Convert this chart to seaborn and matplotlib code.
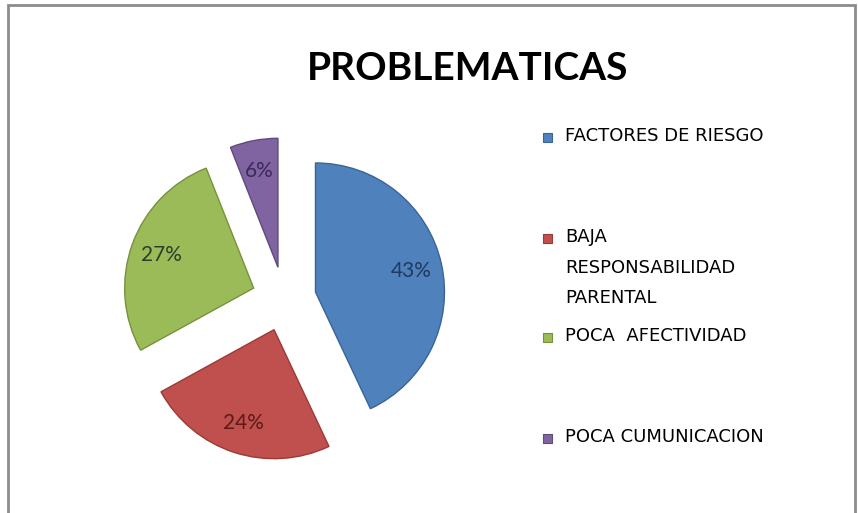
import matplotlib
matplotlib.use("Agg")
import matplotlib.pyplot as plt
from matplotlib.patches import Rectangle
import seaborn as sns

# datos
categorias = ["FACTORES DE RIESGO", "BAJA\nRESPONSABILIDAD\nPARENTAL",
              "POCA  AFECTIVIDAD", "POCA CUMUNICACION"]
porcentajes = [43, 24, 27, 6]
colores = ["#4F81BD", "#C0504D", "#9BBB59", "#8064A2"]
bordes = ["#3A6496", "#9A3A37", "#76923C", "#5F4B7A"]
colores_texto = ["#1F3A5F", "#5A1A18", "#2A3F2A", "#3A2A5A"]

sns.set_style("white")
plt.rcParams['font.family'] = ['Lato', 'DejaVu Sans']

fig = plt.figure(figsize=(8.58, 5.13), dpi=100)
fig.patch.set_facecolor("white")

# eje del pastel (centro ~ (284, 299) px, radio ~129 px)
ax = fig.add_axes([84 / 858, 14 / 513, 400 / 858, 400 / 513])
wedges, textos, autotextos = ax.pie(
    porcentajes, colors=colores, startangle=90, counterclock=False,
    explode=[0.25] * len(porcentajes), autopct='%1.0f%%', pctdistance=0.76,
    wedgeprops={'linewidth': 1.0},
    textprops={'fontsize': 15})
for w, b in zip(wedges, bordes):
    w.set_edgecolor(b)
for t, c in zip(autotextos, colores_texto):
    t.set_color(c)
ax.set_xlim(-200 / 129, 200 / 129)
ax.set_ylim(-200 / 129, 200 / 129)
ax.set_aspect('equal')
ax.axis('off')

# titulo
fig.text(468 / 858, 1 - 68 / 513, "PROBLEMATICAS", ha='center', va='center',
         fontsize=28, fontweight='bold', color='black')

# leyenda manual
ys = [137, 238, 337, 438]
for cat, col, borde, y in zip(categorias, colores, bordes, ys):
    fig.add_artist(Rectangle(((547 - 4.5) / 858, 1 - (y + 4.5) / 513), 9 / 858, 9 / 513,
                             transform=fig.transFigure, facecolor=col,
                             edgecolor=borde, linewidth=0.8))
    fig.text(565 / 858, 1 - (y - 10) / 513, cat, ha='left', va='top',
             fontsize=13, color='black', linespacing=1.9,
             family=['DejaVu Sans'])

# marco
fig.add_artist(Rectangle((8 / 858, -0.01), 847 / 858, 1.01 - 5 / 513,
                         transform=fig.transFigure, fill=False,
                         edgecolor='#8C8C8C', linewidth=2))

fig.savefig("out.png", dpi=100)
